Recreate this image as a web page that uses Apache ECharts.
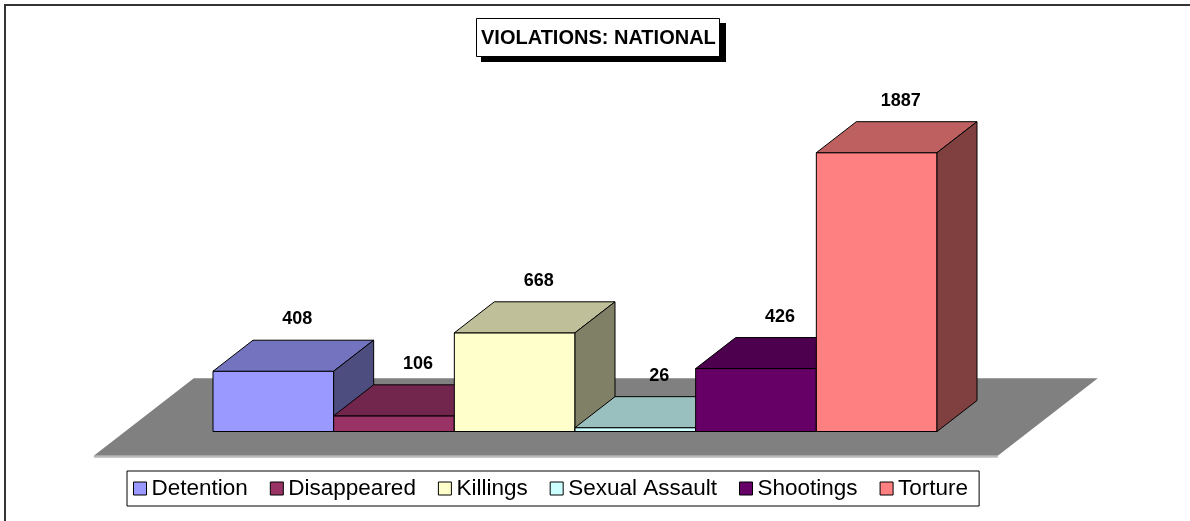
<!DOCTYPE html>
<html>
<head>
<meta charset="utf-8">
<script src="https://cdn.jsdelivr.net/npm/echarts@6/dist/echarts.min.js"></script>
<style>
  html, body { margin: 0; padding: 0; background: #fff; }
  #chartDiv { width: 1190px; height: 521px; }
</style>
</head>
<body>
<div id="chartDiv"></div>
<script>
// data
var categories = ['Detention', 'Disappeared', 'Killings', 'Sexual Assault', 'Shootings', 'Torture'];
var counts = [408, 106, 668, 26, 426, 1887];
var barColors = ['#9999FF', '#993366', '#FFFFCC', '#CCFFFF', '#660066', '#FF8080'];

var DEPTH_X = 40, DEPTH_Y = -31;   // oblique depth of the 3d bars
var FONT = "'Liberation Sans', Arial, sans-serif";

// darker face colour, like excel shades the top and side
function shade(hex, k) {
    var n = parseInt(hex.slice(1), 16);
    var r = Math.round(((n >> 16) & 255) * k);
    var g = Math.round(((n >> 8) & 255) * k);
    var b = Math.round((n & 255) * k);
    return 'rgb(' + r + ',' + g + ',' + b + ')';
}

function renderFloor(params, api) {
    var cs = params.coordSys;
    var base = api.coord([0, 0])[1];
    var L = cs.x - 88, R = cs.x + cs.width + 92;
    var d0 = -0.78, d1 = 1.72;
    var fx = L + DEPTH_X * d0, fy = base + DEPTH_Y * d0;
    var bx = L + DEPTH_X * d1, by = base + DEPTH_Y * d1;
    var w = R - L;
    return {
        type: 'group',
        children: [{
            type: 'polygon',
            shape: { points: [[fx, fy], [fx + w, fy], [bx + w, by], [bx, by]] },
            style: { fill: '#808080' }
        }, {
            type: 'polygon',
            shape: { points: [[fx, fy], [fx + w, fy], [fx + w, fy + 2], [fx, fy + 2]] },
            style: { fill: '#b8b8b8' }
        }]
    };
}

function renderBar(params, api) {
    var p0 = api.coord([api.value(0), 0]);
    var p1 = api.coord([api.value(0), api.value(1)]);
    var w = api.size([1, 0])[0];
    var l = p0[0] - w / 2, r = p0[0] + w / 2;
    var base = p0[1], top = p1[1];
    var col = api.visual('color');
    var line = { stroke: '#000', lineWidth: 1 };
    return {
        type: 'group',
        children: [{
            type: 'polygon',
            shape: { points: [[l, top], [r, top], [r, base], [l, base]] },
            style: Object.assign({ fill: col }, line)
        }, {
            type: 'polygon',
            shape: { points: [[l, top], [l + DEPTH_X, top + DEPTH_Y], [r + DEPTH_X, top + DEPTH_Y], [r, top]] },
            style: Object.assign({ fill: shade(col, 0.75) }, line)
        }, {
            type: 'polygon',
            shape: { points: [[r, top], [r + DEPTH_X, top + DEPTH_Y], [r + DEPTH_X, base + DEPTH_Y], [r, base]] },
            style: Object.assign({ fill: shade(col, 0.5) }, line)
        }, {
            type: 'text',
            style: {
                x: p0[0] + DEPTH_X / 2 + 4,
                y: top + DEPTH_Y - 21,
                text: String(api.value(1)),
                fill: '#000',
                font: 'bold 18px ' + FONT,
                align: 'center',
                verticalAlign: 'middle'
            }
        }]
    };
}

var chart = echarts.init(document.getElementById('chartDiv'));

var series = [{
    name: 'floor',
    type: 'custom',
    silent: true,
    renderItem: renderFloor,
    data: [[categories[0], 0]]
}];
categories.forEach(function (name, i) {
    series.push({
        name: name,
        type: 'custom',
        silent: true,
        itemStyle: { color: barColors[i] },
        renderItem: renderBar,
        data: [[name, counts[i]]]
    });
});

var option = {
    animation: false,
    title: {
        text: 'VIOLATIONS: NATIONAL',
        left: 476,
        top: 18,
        padding: [10, 4, 9, 5],
        backgroundColor: '#fff',
        borderColor: '#000',
        borderWidth: 1,
        textStyle: {
            fontFamily: FONT,
            fontWeight: 'bold',
            fontSize: 20,
            lineHeight: 20,
            color: '#000'
        }
    },
    legend: {
        data: categories,
        left: 127,
        top: 471,
        padding: [6, 11, 6, 6],
        itemGap: 22,
        itemWidth: 13,
        itemHeight: 13,
        icon: 'rect',
        borderColor: '#000',
        borderWidth: 1,
        selectedMode: false,
        itemStyle: { borderColor: '#000', borderWidth: 1 },
        textStyle: { fontFamily: FONT, fontSize: 22.5, lineHeight: 23, color: '#000' }
    },
    graphic: [{
        type: 'rect',
        silent: true,
        shape: { x: 5, y: 5, width: 1300, height: 600 },
        style: { fill: 'none', stroke: '#333', lineWidth: 2 }
    }, {
        // drop shadow behind the title box
        type: 'rect',
        silent: true,
        z: 0,
        shape: { x: 481, y: 23, width: 245, height: 39 },
        style: { fill: '#000' }
    }],
    grid: { left: 213, right: 253, top: 136, bottom: 89.5 },
    xAxis: {
        type: 'category',
        data: categories,
        show: false
    },
    yAxis: {
        type: 'value',
        min: 0,
        max: 2000,
        show: false
    },
    series: series
};

chart.setOption(option);
</script>
</body>
</html>
